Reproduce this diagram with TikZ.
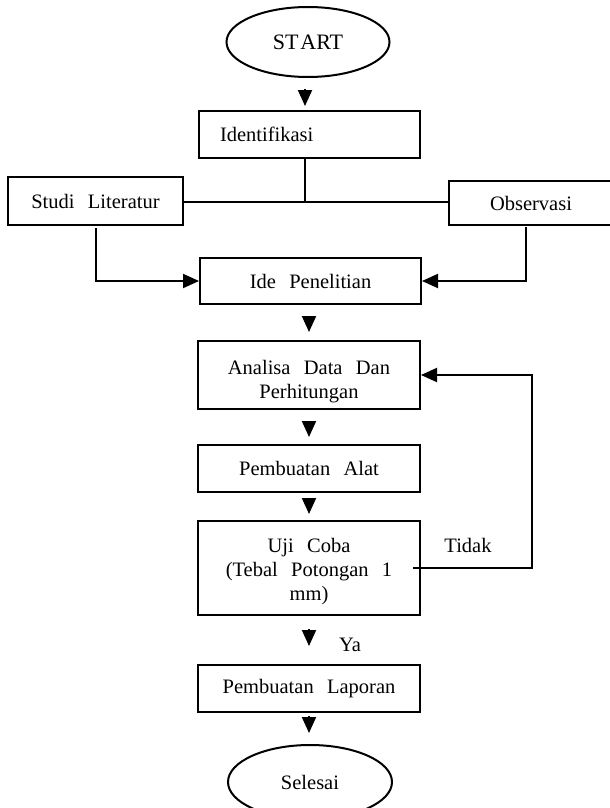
\documentclass[tikz,border=0pt]{standalone}
\usepackage{fontspec}
\setmainfont[WordSpace=2.6]{Liberation Serif}
\usetikzlibrary{arrows.meta,shapes.geometric}
\begin{document}
\begin{tikzpicture}[x=1pt,y=-1pt,
  txt/.style={font=\fontsize{20.5pt}{24pt}\selectfont},
  box/.style={draw, line width=2pt, rectangle, inner sep=0pt, align=center, txt},
  oval/.style={draw, line width=2pt, ellipse, inner sep=0pt, txt},
  conn/.style={line width=2pt},
  arr/.style={line width=2pt, -{Triangle[length=16pt,width=14pt]}}]
\clip (0,0) rectangle (610,808);
\fill[white] (0,0) rectangle (610,808);
% nodes
\node[oval, minimum width=163pt, minimum height=70pt, font=\fontsize{22pt}{26pt}\selectfont] (start) at (308,42) {ST\kern2pt ART};
\node[box, align=left, text width=179pt, inner xsep=21pt, minimum height=47pt] (ident) at (309.5,134.5) {Identifikasi};
\node[box, minimum width=175pt, minimum height=48pt] (studi) at (95.5,201) {Studi Literatur};
\node[box, minimum width=164pt, minimum height=44pt] (obs) at (531,203) {Observasi};
\node[box, minimum width=221pt, minimum height=46pt] (ide) at (310.5,281) {Ide Penelitian};
\node[box, minimum width=222pt, minimum height=68pt] (analisa) at (309,375) {\rule{0pt}{27pt}Analisa Data Dan\\Perhitungan};
\node[box, minimum width=222pt, minimum height=47pt] (alat) at (309,468.5) {Pembuatan Alat};
\node[box, minimum width=222pt, minimum height=94pt] (uji) at (309,568) {\rule{0pt}{22pt}Uji Coba\\(Tebal Potongan 1\\mm)};
\node[box, minimum width=222pt, minimum height=47pt] (lapor) at (309,688.5) {Pembuatan Laporan};
\node[oval, minimum width=164pt, minimum height=74pt] (selesai) at (310,782) {Selesai};
% labels
\node[txt, inner sep=0pt] (tidak) at (468,545) {Tidak};
\node[txt, inner sep=0pt] (ya) at (350,645) {Ya};
% connectors
\coordinate (j) at (305,202);
\draw[arr] ([yshift=-11pt]start.south -| j) -- ([yshift=4pt]ident.north -| j);
\draw[conn] (ident.south -| j) -- (j);
\draw[conn] (studi.east |- j) -- (obs.west |- j);
\draw[arr] ([yshift=-2pt]studi.south) |- (ide.west);
\draw[arr] ([xshift=-5pt,yshift=-1pt]obs.south) |- (ide.east);
\draw[arr, shorten <=11pt, shorten >=8pt] (ide.south -| analisa.north) -- (analisa.north);
\draw[arr, shorten <=13pt, shorten >=7pt] (analisa.south) -- (alat.north);
\draw[arr, shorten <=5pt, shorten >=6pt] (alat.south) -- (uji.north);
\draw[arr, shorten <=13pt, shorten >=18pt] (uji.south) -- (lapor.north);
\draw[arr, shorten <=3pt, shorten >=11pt] (lapor.south) -- (selesai.north -| lapor.south);
\draw[arr] ([xshift=-8pt]uji.east) -- ++(119,0) |- (analisa.east);
\end{tikzpicture}
\end{document}
